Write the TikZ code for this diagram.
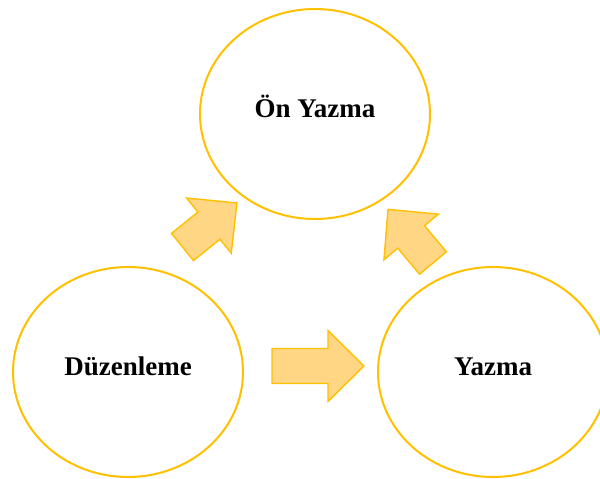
\documentclass[tikz,border=0pt]{standalone}
\usepackage{fontspec}
\setmainfont{Liberation Serif}
\usetikzlibrary{shapes.geometric}
\definecolor{gold}{HTML}{FFC000}
\definecolor{lightgold}{HTML}{FFD683}

\begin{document}
\begin{tikzpicture}[
        x=0.5pt, y=0.5pt,
        stage/.style={ellipse, draw=gold, line width=1pt,
            minimum width=115pt, minimum height=105pt,
            font=\fontsize{13.5}{16}\selectfont\bfseries,
            text height=9pt, text depth=6pt},
        pics/blockarrow/.style={code={
            \draw[draw=gold, fill=lightgold, line width=0.7pt]
                (0,-17.5) -- (#1,-17.5) -- (#1,-35.5) -- (#1+36,0)
                -- (#1,35.5) -- (#1,17.5) -- (0,17.5) -- cycle;
        }}
    ]

        \clip (0,0) rectangle (600,478);

        % Stages
        \node[stage] (onyazma) at (315,364) {Ön Yazma};
        \node[stage] (duzenleme) at (128,106) {Düzenleme};
        \node[stage] (yazma) at (493,106) {Yazma};

        % Block arrows
        \pic[rotate=39] at (182.5,231) {blockarrow=34};
        \pic at (272,112) {blockarrow=56};
        \pic[rotate=130] at (433,215) {blockarrow=34};

    \end{tikzpicture}
\end{document}
